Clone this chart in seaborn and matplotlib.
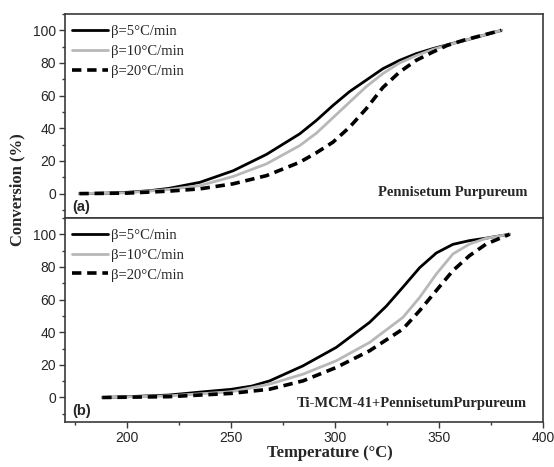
"""Conversion vs temperature for Pennisetum Purpureum, with and without Ti-MCM-41."""
import matplotlib
matplotlib.use("Agg")
import pandas as pd
import seaborn as sns
from matplotlib import pyplot as plt
from matplotlib.ticker import MultipleLocator

# (a) Pennisetum Purpureum
temp_a5 = [177, 190, 200, 211, 220, 235, 251, 267, 283, 291, 299, 307, 315, 323, 331, 339, 347, 355, 363, 371, 380]
conv_a5 = [0, 0.3, 0.8, 1.8, 3.2, 6.9, 14, 24, 36.6, 44.8, 54, 62.5, 69.5, 76.5, 81.6, 85.7, 88.8, 91.5, 94, 96.8, 100]
temp_a10 = [177, 200, 220, 235, 251, 267, 283, 291, 299, 307, 315, 323, 331, 339, 347, 355, 363, 371, 380]
conv_a10 = [0, 0.5, 2.5, 4.9, 10.5, 18.2, 29.4, 37, 46.5, 56, 65.5, 73.5, 80, 84.5, 88.3, 91.3, 94, 96.8, 100]
temp_a20 = [177, 200, 220, 235, 251, 267, 283, 291, 299, 307, 315, 323, 331, 339, 347, 354, 362, 371, 380]
conv_a20 = [0, 0.3, 1.5, 2.9, 6, 11, 19.2, 25, 31.5, 40.7, 52, 65, 74.4, 81.6, 86.7, 90.8, 94, 97, 100]

# (b) Ti-MCM-41 + Pennisetum Purpureum
temp_b5 = [188, 200, 220, 235, 250, 260, 268.6, 284.6, 300.6, 316.6, 324.7, 332.6, 340.7, 348.7, 356.7, 364.7, 372.7, 384]
conv_b5 = [0, 0.5, 1.5, 3.3, 5, 7, 10.2, 19.4, 30.7, 46, 56, 67.5, 79.5, 88.5, 93.8, 96.1, 97.6, 100]
temp_b10 = [188, 220, 250, 268.6, 284.6, 300.6, 316.6, 332.6, 340.7, 348.7, 356.7, 364.7, 372.7, 384]
conv_b10 = [0, 1, 3.5, 8.2, 14.3, 22.5, 33.7, 49, 61.3, 75.6, 87.9, 94, 97.5, 100]
temp_b20 = [188, 220, 250, 268.6, 284.6, 300.6, 316.6, 332.6, 340.7, 348.7, 356.7, 364.7, 372.7, 384]
conv_b20 = [0, 0.5, 2.5, 5.1, 10.2, 18.4, 28.6, 41.9, 53.2, 65.5, 77.7, 86.9, 94, 100]

rate_labels = ["β=5°C/min", "β=10°C/min", "β=20°C/min"]
panel_tags = ["(a)", "(b)"]
panel_names = ["Pennisetum Purpureum", "Ti-MCM-41+PennisetumPurpureum"]

styles = [
    dict(color="black", lw=2.0, ls="-"),
    dict(color="#b8b8b8", lw=2.0, ls="-"),
    dict(color="black", lw=2.6, ls=(0, (2.6, 1.6))),
]

sns.set_theme(style="ticks")
plt.rcParams["font.family"] = ["Liberation Sans", "DejaVu Sans"]
SERIF = ["Liberation Serif", "DejaVu Serif"]
SPINE = "#3a3a3a"

fig = plt.figure(figsize=(5.54, 4.67), dpi=100)
ax_a = fig.add_axes([0.117, 0.533, 0.863, 0.437])
ax_b = fig.add_axes([0.117, 0.0964, 0.863, 0.437], sharex=ax_a)

panels = [
    (ax_a, [(temp_a5, conv_a5), (temp_a10, conv_a10), (temp_a20, conv_a20)]),
    (ax_b, [(temp_b5, conv_b5), (temp_b10, conv_b10), (temp_b20, conv_b20)]),
]

for i, (ax, series) in enumerate(panels):
    for (t, c), label, st in zip(series, rate_labels, styles):
        df = pd.DataFrame({"temp": t, "conv": c})
        sns.lineplot(data=df, x="temp", y="conv", ax=ax, sort=False, estimator=None,
                     color=st["color"], linewidth=st["lw"], linestyle=st["ls"], label=label,
                     solid_joinstyle="round")
    ax.set_xlim(170, 400)
    ax.set_ylim(-15, 110)
    ax.set_xlabel("")
    ax.set_ylabel("")
    ax.yaxis.set_major_locator(MultipleLocator(20))
    ax.yaxis.set_minor_locator(MultipleLocator(10))
    ax.xaxis.set_major_locator(MultipleLocator(50))
    ax.xaxis.set_minor_locator(MultipleLocator(25))
    ax.tick_params(which="major", direction="out", length=4.5, width=1, color=SPINE,
                   labelsize=10, pad=2)
    ax.tick_params(which="minor", direction="out", length=2.5, width=1, color=SPINE)
    ax.tick_params(right=False, top=False, which="both")
    for sp in ax.spines.values():
        sp.set_color(SPINE)
        sp.set_linewidth(1.2)
        sp.set_visible(True)
    ax.legend(loc="upper left", bbox_to_anchor=(-0.008, 1.0), frameon=False,
              prop={"family": SERIF, "size": 10.5}, handlelength=2.5,
              handletextpad=0.15, labelspacing=0.45, borderpad=0.3, borderaxespad=0.45)
    ax.text(0.015, 0.02, panel_tags[i], transform=ax.transAxes, fontsize=10.5,
            fontweight="bold", ha="left", va="bottom")
    ax.text(0.967, 0.127 if i == 0 else 0.093, panel_names[i], transform=ax.transAxes,
            fontsize=10.5, fontweight="bold", family=SERIF, ha="right", va="center")

ax_a.tick_params(axis="x", which="both", bottom=False, labelbottom=False)

fig.text(0.031, 0.593, "Conversion (%)", rotation=90, ha="center", va="center",
         fontsize=12, fontweight="bold", family=SERIF)
fig.text(0.596, 0.013, "Temperature (°C)", ha="center", va="bottom",
         fontsize=12, fontweight="bold", family=SERIF)

fig.savefig("out.png", dpi=100)
